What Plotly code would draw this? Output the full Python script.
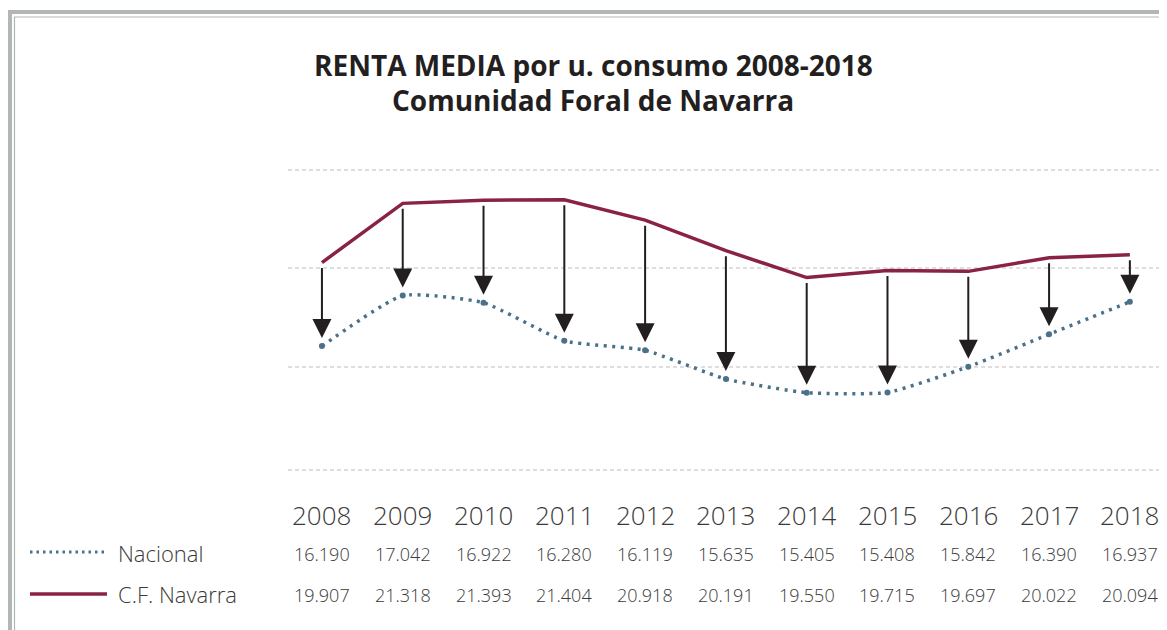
import plotly.graph_objects as go

# data
years = ["2008", "2009", "2010", "2011", "2012", "2013", "2014", "2015", "2016", "2017", "2018"]
nacional = [16190, 17042, 16922, 16280, 16119, 15635, 15405, 15408, 15842, 16390, 16937]
navarra = [19907, 21318, 21393, 21404, 20918, 20191, 19550, 19715, 19697, 20022, 20094]
nacional_labels = ["16.190", "17.042", "16.922", "16.280", "16.119", "15.635",
                   "15.405", "15.408", "15.842", "16.390", "16.937"]
navarra_labels = ["19.907", "21.318", "21.393", "21.404", "20.918", "20.191",
                  "19.550", "19.715", "19.697", "20.022", "20.094"]

# the page body adds an 8px margin, so the figure is drawn 8px smaller
OFF = 8
W, H = 1167 - OFF, 630 - OFF
PLOT_L, PLOT_R, PLOT_T, PLOT_B = 288, 1163, 170, 470  # screen pixels

NAV_RANGE = [14963, 22113]
NAC_RANGE = [14101, 19160]

NAV_COLOR = "#8a2247"
NAC_COLOR = "#4a7189"
ARROW_COLOR = "#231f20"
TEXT_COLOR = "#3a3a3a"
FONT = "Open Sans"


def px_x(px):
    return (px - PLOT_L) / (PLOT_R - PLOT_L)


def px_y(py):
    return (PLOT_B - py) / (PLOT_B - PLOT_T)


def nav_to_nac(v):
    # tail of the arrow sits on the Navarra line, expressed on the Nacional axis
    f = (v - NAV_RANGE[0]) / (NAV_RANGE[1] - NAV_RANGE[0])
    return NAC_RANGE[0] + f * (NAC_RANGE[1] - NAC_RANGE[0])


fig = go.Figure()

fig.add_trace(go.Scatter(
    x=years, y=navarra, mode="lines", name="C.F. Navarra",
    line=dict(color=NAV_COLOR, width=3.5), yaxis="y",
))
fig.add_trace(go.Scatter(
    x=years, y=nacional, mode="lines+markers", name="Nacional",
    line=dict(color=NAC_COLOR, width=3.5, dash="3px,5.5px", shape="spline", smoothing=0.5),
    marker=dict(size=6, color=NAC_COLOR), yaxis="y2",
))

shapes = []
# dashed gridlines
for f in [1, px_y(268), px_y(367), 0]:
    shapes.append(dict(type="line", xref="paper", yref="paper", x0=0, x1=1, y0=f, y1=f,
                       line=dict(color="#bdbdbd", width=1.2, dash="4px,3px"), layer="below"))

# frame around the chart
frame = "#b3b6b6"
shapes.append(dict(type="line", xref="paper", yref="paper",
                   x0=px_x(8), x1=px_x(1180), y0=px_y(12), y1=px_y(12),
                   line=dict(color=frame, width=4)))
shapes.append(dict(type="line", xref="paper", yref="paper",
                   x0=px_x(10), x1=px_x(10), y0=px_y(10), y1=px_y(640),
                   line=dict(color=frame, width=4)))
shapes.append(dict(type="line", xref="paper", yref="paper",
                   x0=px_x(14), x1=px_x(1180), y0=px_y(17), y1=px_y(17),
                   line=dict(color=frame, width=1.2)))
shapes.append(dict(type="line", xref="paper", yref="paper",
                   x0=px_x(14.5), x1=px_x(14.5), y0=px_y(17), y1=px_y(640),
                   line=dict(color=frame, width=1.2)))

# legend samples
shapes.append(dict(type="line", xref="paper", yref="paper",
                   x0=px_x(30), x1=px_x(108), y0=px_y(552), y1=px_y(552),
                   line=dict(color=NAC_COLOR, width=3, dash="2.5px,4px")))
shapes.append(dict(type="line", xref="paper", yref="paper",
                   x0=px_x(30), x1=px_x(107), y0=px_y(594), y1=px_y(594),
                   line=dict(color=NAV_COLOR, width=3.5)))

annotations = []
# arrows from the Navarra line down to the Nacional line
for i, (nav, nac) in enumerate(zip(navarra, nacional)):
    annotations.append(dict(
        x=i, y=nac, xref="x", yref="y2",
        ax=i, ay=nav_to_nac(nav), axref="x", ayref="y2",
        text="", showarrow=True, arrowhead=2, arrowsize=1.9, arrowwidth=2,
        arrowcolor=ARROW_COLOR, standoff=8, startstandoff=4,
    ))


def label(x, y, text, size, xref="x", xanchor="center", color=TEXT_COLOR, weight=300):
    return dict(x=x, y=y, xref=xref, yref="paper", text=text, showarrow=False,
                xanchor=xanchor, yanchor="middle",
                font=dict(size=size, color=color, family=FONT, weight=weight))


# table rows
for i, (yr, nac_t, nav_t) in enumerate(zip(years, nacional_labels, navarra_labels)):
    annotations.append(label(i, px_y(515), yr, 26))
    annotations.append(label(i, px_y(554), nac_t, 18))
    annotations.append(label(i, px_y(595), nav_t, 18))

annotations.append(label(px_x(116), px_y(553), "Nacional", 22, xref="paper", xanchor="left"))
annotations.append(label(px_x(116), px_y(594), "C.F. Navarra", 22, xref="paper", xanchor="left"))

# title
annotations.append(label(px_x(593), px_y(65), "RENTA MEDIA por u. consumo 2008-2018", 28,
                         xref="paper", color="#231f20", weight=700))
annotations.append(label(px_x(593), px_y(100), "Comunidad Foral de Navarra", 28,
                         xref="paper", color="#231f20", weight=700))

fig.update_layout(
    width=W, height=H,
    margin=dict(l=PLOT_L - OFF, r=W - (PLOT_R - OFF), t=PLOT_T - OFF, b=H - (PLOT_B - OFF)),
    paper_bgcolor="white", plot_bgcolor="white",
    showlegend=False,
    xaxis=dict(type="category", range=[-0.42, 10.41], visible=False),
    yaxis=dict(range=NAV_RANGE, visible=False),
    yaxis2=dict(range=NAC_RANGE, visible=False, overlaying="y"),
    shapes=shapes,
    annotations=annotations,
)

fig.write_html("out.html")
